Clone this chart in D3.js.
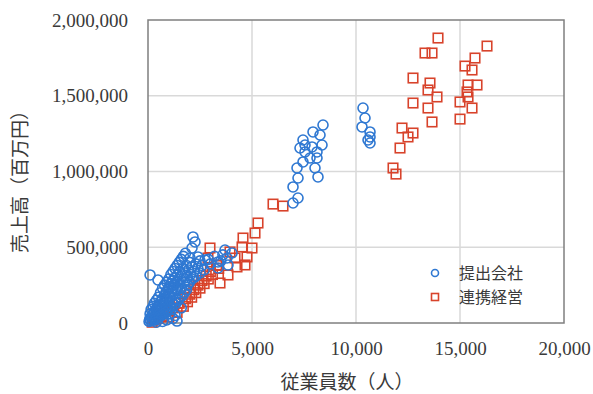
<!DOCTYPE html>
<html>
<head>
<meta charset="utf-8">
<script src="https://cdn.jsdelivr.net/npm/d3@7"></script>
<style>
  body { margin: 0; background: #fff; }
  svg { display: block; }
</style>
</head>
<body>
<svg id="chart" width="593" height="394"></svg>
<script>
// 提出会社: [従業員数, 売上高(百万円)]
const filerX = [50, 80, 120, 150, 200, 220, 260, 300, 320, 350, 380, 400, 430, 460, 500, 520, 550, 580, 600, 620,
  650, 680, 700, 720, 750, 780, 800, 830, 860, 880, 900, 930, 950, 980, 1000, 1030, 1050, 1080, 1100, 1130,
  1150, 1180, 1200, 1230, 1260, 1300, 1330, 1360, 1400, 1430, 1460, 1500, 1530, 1560, 1600, 1650, 1700, 1750, 1800, 1850,
  1900, 1950, 2000, 2050, 2100, 2200, 2300, 2400, 2500, 2600, 2700, 2900, 3000, 3200, 3500, 3600,
  100, 150, 250, 300, 350, 400, 450, 500, 550, 600, 650, 700, 750, 800, 850, 900, 950, 1000, 1050, 1100,
  1150, 1200, 1250, 1300, 1350, 1400, 1450, 1500, 1550, 1600, 1650, 1700, 1750, 1800, 1850, 1900, 2000, 2100, 2200, 2300,
  2500, 1200, 1300, 900, 700, 400, 1600,
  100, 480, 1394, 2164, 2260, 2116, 3702, 4039, 3798, 3846, 3366, 3366, 2741, 2404, 2019,
  8414, 7933, 8270, 7452, 7548, 7308, 8366, 7885, 8125, 7548, 7789, 7452, 8125, 8029, 7164, 7212, 8173, 6972, 7212, 6972,
  10337, 10433, 10289, 10674, 10674, 10578, 10674];
const filerY = [10000, 25000, 15000, 40000, 20000, 55000, 35000, 70000, 20000, 50000, 90000, 30000, 60000, 110000, 45000, 80000, 120000, 65000, 140000, 95000,
  50000, 110000, 160000, 75000, 130000, 180000, 100000, 150000, 200000, 120000, 170000, 90000, 220000, 140000, 190000, 240000, 110000, 170000, 260000, 210000,
  140000, 230000, 280000, 190000, 250000, 300000, 160000, 220000, 270000, 320000, 200000, 250000, 340000, 290000, 230000, 310000, 360000, 270000, 330000, 380000,
  300000, 350000, 400000, 320000, 370000, 340000, 390000, 360000, 410000, 380000, 350000, 420000, 390000, 440000, 410000, 450000,
  60000, 90000, 110000, 130000, 20000, 150000, 90000, 170000, 40000, 200000, 150000, 230000, 60000, 250000, 70000, 270000, 80000, 290000, 60000, 320000,
  90000, 340000, 120000, 360000, 130000, 380000, 150000, 400000, 170000, 420000, 180000, 440000, 200000, 460000, 220000, 250000, 270000, 290000, 300000, 310000,
  330000, 30000, 50000, 20000, 10000, 5000, 100000,
  317000, 284000, 13000, 568000, 535000, 495000, 482000, 462000, 429000, 383000, 403000, 363000, 416000, 436000, 429000,
  1307000, 1261000, 1241000, 1208000, 1175000, 1155000, 1175000, 1162000, 1129000, 1129000, 1089000, 1063000, 1089000, 1023000, 1023000, 957000, 964000, 898000, 825000, 792000,
  1419000, 1353000, 1294000, 1261000, 1228000, 1208000, 1188000];

// 連携経営
const groupX = [200, 300, 500, 700, 900, 1000, 1200, 1400, 1500, 1700, 1800, 1900, 2000, 2100, 2200, 2300, 2400, 2500, 2600, 2700,
  2800, 2900, 3000, 3100, 3300, 3400,
  5289, 5145, 4568, 5000, 4520, 4760, 4664, 4183, 4279, 3846, 3462, 2981, 2885, 3318, 3943, 6010, 6491,
  13943, 16299, 13318, 13655, 15722, 15241, 15578, 12741, 13558, 15818, 15386, 13462, 15337, 13895, 12741, 15001, 15386,
  13462, 15578, 13655, 15001, 12212, 12741, 12501, 12116, 11780, 11924];
const groupY = [5000, 20000, 30000, 50000, 80000, 40000, 100000, 70000, 130000, 110000, 160000, 140000, 190000, 170000, 220000, 200000, 250000, 230000, 280000, 260000,
  310000, 290000, 340000, 320000, 380000, 360000,
  660000, 594000, 561000, 495000, 502000, 436000, 383000, 429000, 370000, 317000, 264000, 495000, 429000, 383000, 469000, 785000, 772000,
  1881000, 1828000, 1782000, 1782000, 1749000, 1696000, 1670000, 1617000, 1584000, 1571000, 1571000, 1538000, 1525000, 1492000, 1452000, 1459000, 1492000,
  1419000, 1419000, 1327000, 1346000, 1287000, 1254000, 1228000, 1155000, 1023000, 983000];

const xTicks = [0, 5000, 10000, 15000, 20000];
const yTicks = [0, 500000, 1000000, 1500000, 2000000];
const seriesNames = ['提出会社', '連携経営'];

const blue = '#2f78d2';
const red = '#d8432b';
const textColor = '#3a3a3a';
const numFont = '"Liberation Serif", "Times New Roman", serif';
const jpFont = '"Noto Sans CJK JP", sans-serif';

const width = 593, height = 394;
const margin = { top: 20, right: 29, bottom: 71, left: 148 };
const innerW = width - margin.left - margin.right;
const innerH = height - margin.top - margin.bottom;

const svg = d3.select('#chart');
const g = svg.append('g').attr('transform', `translate(${margin.left},${margin.top})`);

const x = d3.scaleLinear().domain([0, 20000]).range([0, innerW]);
const y = d3.scaleLinear().domain([0, 2000000]).range([innerH, 0]);
const fmt = d3.format(',');

// gridlines
g.append('g')
  .selectAll('line')
  .data(xTicks.slice(1, -1))
  .join('line')
  .attr('x1', d => x(d)).attr('x2', d => x(d))
  .attr('y1', 0).attr('y2', innerH)
  .attr('stroke', '#d9d9d9').attr('stroke-width', 1.5);
g.append('g')
  .selectAll('line')
  .data(yTicks.slice(1, -1))
  .join('line')
  .attr('x1', 0).attr('x2', innerW)
  .attr('y1', d => y(d)).attr('y2', d => y(d))
  .attr('stroke', '#d9d9d9').attr('stroke-width', 1.5);

// frame
g.append('rect')
  .attr('width', innerW).attr('height', innerH)
  .attr('fill', 'none').attr('stroke', '#7f7f7f').attr('stroke-width', 1.5);

// axes (labels only)
const xAxis = g.append('g')
  .attr('transform', `translate(0,${innerH})`)
  .call(d3.axisBottom(x).tickValues(xTicks).tickFormat(fmt).tickSize(0).tickPadding(19));
const yAxis = g.append('g')
  .call(d3.axisLeft(y).tickValues(yTicks).tickFormat(fmt).tickSize(0).tickPadding(20));
[xAxis, yAxis].forEach(a => {
  a.select('.domain').remove();
  a.selectAll('text')
    .attr('font-family', numFont)
    .attr('font-size', 19)
    .attr('fill', textColor);
});

// series
const filer = filerX.map((v, i) => [v, filerY[i]]);
const group = groupX.map((v, i) => [v, groupY[i]]);
const s = 9.5;

g.append('g')
  .selectAll('rect')
  .data(group)
  .join('rect')
  .attr('x', d => x(d[0]) - s / 2)
  .attr('y', d => y(d[1]) - s / 2)
  .attr('width', s).attr('height', s)
  .attr('fill', 'none')
  .attr('stroke', red)
  .attr('stroke-width', 1.6);

g.append('g')
  .selectAll('circle')
  .data(filer)
  .join('circle')
  .attr('cx', d => x(d[0]))
  .attr('cy', d => y(d[1]))
  .attr('r', 5)
  .attr('fill', 'none')
  .attr('stroke', blue)
  .attr('stroke-width', 1.6);

// axis titles
svg.append('text')
  .attr('x', 347).attr('y', 389)
  .attr('text-anchor', 'middle')
  .attr('font-family', jpFont).attr('font-size', 19)
  .attr('fill', textColor)
  .text('従業員数（人）');
svg.append('text')
  .attr('transform', 'translate(27,177) rotate(-90)')
  .attr('text-anchor', 'middle')
  .attr('font-family', jpFont).attr('font-size', 19)
  .attr('fill', textColor)
  .text('売上高（百万円）');

// legend
const legend = svg.append('g').attr('transform', 'translate(435,273)');
const items = legend.selectAll('g')
  .data(seriesNames)
  .join('g')
  .attr('transform', (d, i) => `translate(0,${i * 24})`);
items.filter((d, i) => i === 0).append('circle')
  .attr('r', 3.5).attr('fill', 'none').attr('stroke', blue).attr('stroke-width', 1.6);
items.filter((d, i) => i === 1).append('rect')
  .attr('x', -3.5).attr('y', -3.5).attr('width', 7).attr('height', 7)
  .attr('fill', 'none').attr('stroke', red).attr('stroke-width', 1.6);
items.append('text')
  .attr('x', 24).attr('dy', '0.35em')
  .attr('font-family', jpFont).attr('font-size', 16)
  .attr('fill', textColor)
  .text(d => d);
</script>
</body>
</html>
